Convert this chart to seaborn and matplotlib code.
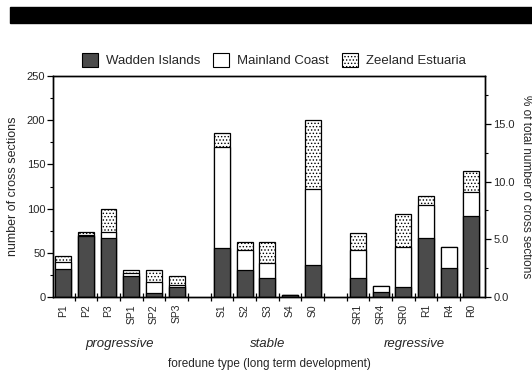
import matplotlib
matplotlib.use('Agg')
import matplotlib.pyplot as plt
import seaborn as sns
import pandas as pd
import numpy as np
from matplotlib.patches import Patch, Rectangle
from matplotlib.ticker import MultipleLocator, FuncFormatter

# ---- data ----
groups = ['progressive', 'stable', 'regressive']
progressive_types = ['P1', 'P2', 'P3', 'SP1', 'SP2', 'SP3']
stable_types = ['S1', 'S2', 'S3', 'S4', 'S0']
regressive_types = ['SR1', 'SR4', 'SR0', 'R1', 'R4', 'R0']
categories = progressive_types + stable_types + regressive_types

wadden = [32, 69, 67, 24, 4, 11, 55, 30, 22, 2, 36, 21, 6, 11, 67, 33, 92]
mainland = [8, 1, 6, 3, 13, 3, 115, 23, 16, 0, 86, 32, 6, 45, 37, 24, 27]
zeeland = [6, 3, 27, 4, 13, 10, 15, 9, 24, 0, 78, 19, 0, 38, 10, 0, 23]

series_names = ['Wadden Islands', 'Mainland Coast', 'Zeeland Estuaria']

# ---- styling ----
sns.set_theme(style='ticks')
plt.rcParams['font.family'] = ['Liberation Sans', 'DejaVu Sans']
plt.rcParams['hatch.linewidth'] = 0.6
plt.rcParams['axes.linewidth'] = 1.0

dark = '#4b4b4b'

df = pd.DataFrame({'type': categories, 'W': wadden, 'M': mainland, 'Z': zeeland})
df['WM'] = df['W'] + df['M']
df['T'] = df['WM'] + df['Z']
total = df['T'].sum()

# category order with a blank slot between groups
members = [progressive_types, stable_types, regressive_types]
order, centers = [], []
for gi, mem in enumerate(members):
    if gi > 0:
        order.append(' ' * gi)
    start = len(order)
    order.extend(mem)
    centers.append((start + len(order) - 1) / 2)

fig = plt.figure(figsize=(5.32, 3.71), dpi=100)
ax = fig.add_axes([0.0996, 0.1995, 0.8121, 0.5955])

common = dict(data=df, x='type', order=order, width=0.7, saturation=1,
              edgecolor='black', linewidth=0.9, ax=ax, errorbar=None)
sns.barplot(y='T', color='white', hatch='.....', **common)
sns.barplot(y='WM', color='white', **common)
sns.barplot(y='W', color=dark, **common)

ax.set_xlim(-0.45, len(order) - 0.4)
ax.set_ylim(0, 250)
ax.yaxis.set_major_locator(MultipleLocator(50))
ax.yaxis.set_minor_locator(MultipleLocator(25))
ax.tick_params(axis='y', which='major', length=4, width=0.9, labelsize=8, pad=1.5, color='black')
ax.tick_params(axis='y', which='minor', length=2, width=0.8, color='black')

ax.set_xticks(range(len(order)))
ax.set_xticklabels([o.strip() for o in order], rotation=90, fontsize=7.5)
ax.set_xticks(np.arange(0.5, len(order) - 0.5, 1), minor=True)
ax.tick_params(axis='x', which='major', length=0, pad=5)
ax.tick_params(axis='x', which='minor', direction='inout', length=6, width=0.9, color='black')
ax.set_xlabel('')
ax.set_ylabel('number of cross sections', fontsize=9, labelpad=6)

for s in ax.spines.values():
    s.set_color('black')

ax2 = ax.twinx()
ax2.set_ylim(0, 250 * 100 / total)
ax2.yaxis.set_major_locator(MultipleLocator(5))
ax2.yaxis.set_minor_locator(MultipleLocator(2.5))
ax2.yaxis.set_major_formatter(FuncFormatter(lambda v, p: f'{v:.1f}'))
ax2.tick_params(axis='y', which='major', length=4, width=0.9, labelsize=8, pad=2, color='black')
ax2.tick_params(axis='y', which='minor', length=2, width=0.8, color='black')
ax2.set_ylabel('% of total number of cross sections', rotation=270, va='bottom',
               fontsize=8.5, labelpad=4)
for s in ax2.spines.values():
    s.set_color('black')

tr = ax.get_xaxis_transform()
for c, g in zip(centers, groups):
    ax.text(c, -0.212, g, transform=tr, ha='center', va='center',
            fontsize=9.5, style='italic')
ax.text(0.5, -0.305, 'foredune type (long term development)', transform=ax.transAxes,
        ha='center', va='center', fontsize=8.5)

handles = [Patch(facecolor=dark, edgecolor='black', linewidth=0.8),
           Patch(facecolor='white', edgecolor='black', linewidth=0.8),
           Patch(facecolor='white', edgecolor='black', hatch='.....', linewidth=0.8)]
fig.legend(handles, series_names, loc='center', bbox_to_anchor=(0.515, 0.838),
           ncol=3, frameon=False, fontsize=9.5, handlelength=1.2, handleheight=1.2,
           handletextpad=0.6, columnspacing=1.0)

fig.add_artist(Rectangle((10 / 532, 1 - 23 / 371), 1 - 10 / 532, 16 / 371,
                         transform=fig.transFigure, color='black', zorder=5))

fig.savefig('out.png', dpi=100)
